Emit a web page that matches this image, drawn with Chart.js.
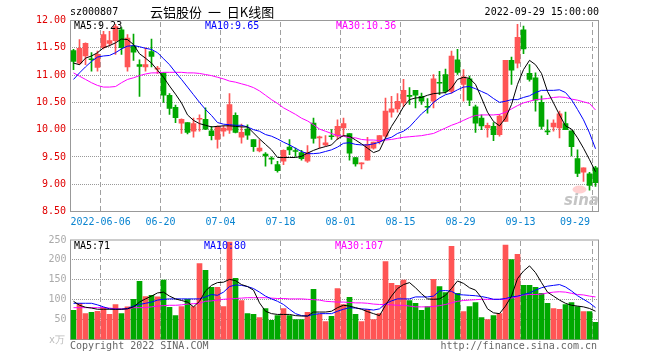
<!DOCTYPE html>
<html><head><meta charset="utf-8">
<script src="https://cdn.jsdelivr.net/npm/chart.js@4/dist/chart.umd.min.js"></script>
<style>
html,body{margin:0;padding:0;background:#fff;}
body{width:660px;height:360px;overflow:hidden;position:relative;font-family:"DejaVu Sans Mono",monospace;}
canvas{position:absolute;left:0;}
#c1{top:0;} #c2{top:230px;}
.t{position:absolute;font-size:10px;line-height:12px;white-space:pre;font-family:"DejaVu Sans Mono",monospace;}
.title{position:absolute;left:150px;top:4px;font-size:13px;line-height:16px;font-family:"Noto Sans CJK SC",sans-serif;word-spacing:3px;white-space:pre;color:#000;}
</style></head><body>
<canvas id="c1" width="660" height="230"></canvas>
<canvas id="c2" width="660" height="130"></canvas>
<div class="t" style="left:70px;top:6px;color:#000">sz000807</div>
<div class="title">云铝股份 一 日K线图</div>
<div class="t" style="right:61px;top:6px;color:#000">2022-09-29 15:00:00</div>
<div class="t" style="left:74px;top:20px;color:#000">MA5:9.23</div>
<div class="t" style="left:205px;top:20px;color:#0000ff">MA10:9.65</div>
<div class="t" style="left:336px;top:20px;color:#ff00ff">MA30:10.36</div>
<div class="t" style="left:74px;top:240px;color:#000">MA5:71</div>
<div class="t" style="left:204px;top:240px;color:#0000ff">MA10:80</div>
<div class="t" style="left:335px;top:240px;color:#ff00ff">MA30:107</div>
<div class="t" style="left:49px;top:334px;color:#bbb">x万</div>
<div class="t" style="left:70px;top:340px;color:#666">Copyright 2022 SINA.COM</div>
<div class="t" style="right:63px;top:340px;color:#666">http://finance.sina.com.cn</div>
<script>
const dates = ['2022-05-27','2022-05-30','2022-05-31','2022-06-01','2022-06-02','2022-06-06','2022-06-07','2022-06-08','2022-06-09','2022-06-10',
'2022-06-13','2022-06-14','2022-06-15','2022-06-16','2022-06-17','2022-06-20','2022-06-21','2022-06-22','2022-06-23','2022-06-24',
'2022-06-27','2022-06-28','2022-06-29','2022-06-30','2022-07-01','2022-07-04','2022-07-05','2022-07-06','2022-07-07','2022-07-08',
'2022-07-11','2022-07-12','2022-07-13','2022-07-14','2022-07-15','2022-07-18','2022-07-19','2022-07-20','2022-07-21','2022-07-22',
'2022-07-25','2022-07-26','2022-07-27','2022-07-28','2022-07-29','2022-08-01','2022-08-02','2022-08-03','2022-08-04','2022-08-05',
'2022-08-08','2022-08-09','2022-08-10','2022-08-11','2022-08-12','2022-08-15','2022-08-16','2022-08-17','2022-08-18','2022-08-19',
'2022-08-22','2022-08-23','2022-08-24','2022-08-25','2022-08-26','2022-08-29','2022-08-30','2022-08-31','2022-09-01','2022-09-02',
'2022-09-05','2022-09-06','2022-09-07','2022-09-08','2022-09-09','2022-09-13','2022-09-14','2022-09-15','2022-09-16','2022-09-19',
'2022-09-20','2022-09-21','2022-09-22','2022-09-23','2022-09-26','2022-09-27','2022-09-28','2022-09-29'];

const opens = [11.45,11.22,11.35,11.29,11.14,11.50,11.58,11.63,11.83,11.15,
11.53,11.19,11.15,11.43,11.11,11.04,10.63,10.41,10.12,10.13,
9.97,10.19,10.19,9.98,9.82,9.97,9.99,10.26,9.86,10.01,
9.82,9.61,9.55,9.47,9.36,9.42,9.68,9.61,9.58,9.42,
10.12,9.85,9.72,9.88,9.88,10.03,9.93,9.49,9.37,9.44,
9.66,9.78,9.88,10.32,10.38,10.49,10.63,10.72,10.61,10.42,
10.52,10.86,11.01,10.70,11.28,10.83,10.93,10.42,10.21,10.03,
10.06,9.91,10.15,11.27,11.22,11.83,11.03,10.95,10.50,9.97,
10.05,10.03,10.11,9.98,9.47,9.22,9.19,9.30];

const highs = [11.47,11.65,11.59,11.41,11.44,11.80,11.80,11.93,11.87,11.74,
11.75,11.28,11.50,11.66,11.16,11.04,10.66,10.45,10.20,10.13,
10.21,10.27,10.40,10.06,10.07,10.07,10.66,10.31,10.10,10.09,
9.82,9.82,9.58,9.50,9.42,9.63,9.82,9.66,9.62,9.71,
10.21,9.88,9.89,10.00,10.18,10.21,9.93,9.49,9.39,9.86,
9.77,9.89,10.58,10.61,10.66,10.92,10.77,10.72,10.67,10.57,
11.01,11.07,11.11,11.44,11.47,11.10,10.98,10.45,10.27,10.12,
10.13,10.28,11.27,11.33,11.93,11.90,11.19,11.04,10.62,10.18,
10.18,10.34,10.32,9.98,9.63,9.30,9.22,9.33];

const lows = [11.10,11.19,11.19,11.07,11.07,11.48,11.53,11.38,11.38,11.07,
11.27,10.61,11.07,11.15,11.03,10.50,10.28,10.13,9.93,9.92,
9.86,9.97,10.00,9.81,9.66,9.88,9.93,9.94,9.75,9.82,
9.60,9.59,9.33,9.37,9.22,9.36,9.54,9.51,9.44,9.40,
9.75,9.66,9.70,9.82,9.82,9.88,9.44,9.33,9.28,9.44,
9.64,9.74,9.85,10.23,10.32,10.42,10.46,10.40,10.46,10.30,
10.40,10.64,10.67,10.67,11.01,10.52,10.44,9.95,10.00,9.86,
9.80,9.88,10.15,10.83,11.13,11.39,10.89,10.34,10.01,9.91,
9.97,9.85,10.00,9.52,9.14,9.05,8.89,8.96];

const closes = [11.25,11.49,11.58,11.28,11.38,11.74,11.63,11.89,11.50,11.68,
11.42,11.16,11.19,11.34,11.13,10.63,10.39,10.22,10.19,9.95,
10.11,10.20,10.01,9.89,10.06,10.03,10.46,9.95,9.95,9.90,
9.69,9.66,9.52,9.46,9.25,9.62,9.63,9.60,9.47,9.58,
9.84,9.87,9.76,9.87,10.06,10.11,9.57,9.37,9.39,9.73,
9.77,9.89,10.34,10.38,10.52,10.72,10.61,10.63,10.52,10.41,
10.93,10.85,10.70,11.35,11.05,10.97,10.54,10.12,10.07,10.08,
9.91,10.25,11.27,11.09,11.69,11.48,10.92,10.54,10.06,9.96,
10.12,10.29,10.00,9.69,9.20,9.30,8.98,9.03];

const priceMA5 = [11.22,11.19,11.31,11.35,11.41,11.50,11.54,11.59,11.66,11.65,
11.56,11.39,11.31,11.22,11.09,10.96,10.80,10.65,10.49,10.27,
10.17,10.11,10.08,10.05,10.06,10.07,10.07,10.06,10.05,10.05,
9.94,9.83,9.73,9.63,9.49,9.49,9.49,9.49,9.51,9.57,
9.62,9.66,9.69,9.72,9.83,9.89,9.88,9.81,9.74,9.66,
9.58,9.62,9.85,10.06,10.23,10.42,10.55,10.58,10.59,10.63,
10.66,10.67,10.68,10.76,10.92,10.96,10.94,10.83,10.58,10.32,
10.15,10.07,10.21,10.46,10.83,11.10,11.27,11.19,11.03,10.70,
10.49,10.27,10.07,10.01,9.85,9.66,9.45,9.23];

const priceMA10 = [10.92,11.04,11.15,11.25,11.33,11.35,11.36,11.41,11.48,11.53,
11.54,11.52,11.49,11.47,11.41,11.30,11.19,11.05,10.92,10.78,
10.64,10.50,10.37,10.26,10.13,10.10,10.09,10.08,10.08,10.05,
10.00,9.97,9.91,9.88,9.83,9.77,9.72,9.66,9.60,9.56,
9.56,9.57,9.60,9.63,9.68,9.75,9.76,9.73,9.72,9.72,
9.74,9.77,9.83,9.86,9.93,9.97,10.05,10.17,10.29,10.38,
10.50,10.58,10.64,10.67,10.73,10.78,10.79,10.75,10.70,10.65,
10.57,10.50,10.52,10.55,10.55,10.59,10.62,10.68,10.72,10.72,
10.72,10.73,10.68,10.55,10.37,10.18,9.94,9.65];

const priceMA30 = [11.04,10.98,10.92,10.86,10.81,10.78,10.78,10.79,10.86,10.92,
10.95,10.99,11.02,11.04,11.04,11.05,11.05,11.05,11.05,11.04,
11.04,11.03,11.01,10.99,10.96,10.93,10.89,10.87,10.84,10.81,
10.77,10.71,10.63,10.55,10.48,10.40,10.34,10.28,10.21,10.16,
10.09,10.01,9.97,9.93,9.89,9.88,9.85,9.85,9.82,9.81,
9.81,9.80,9.81,9.82,9.84,9.86,9.87,9.88,9.89,9.91,
9.93,9.98,10.03,10.08,10.12,10.17,10.22,10.26,10.27,10.27,
10.27,10.28,10.32,10.38,10.44,10.49,10.52,10.55,10.56,10.57,
10.59,10.60,10.59,10.56,10.54,10.51,10.48,10.36];

const volumes = [73,91,65,68,71,80,63,88,65,82,
101,146,108,111,107,149,81,60,83,101,
83,191,174,131,131,83,245,154,98,65,
63,55,78,48,60,78,60,50,50,68,
126,63,45,58,128,88,106,63,45,76,
50,65,196,141,136,149,98,91,73,83,
151,133,118,234,116,70,83,93,55,50,
60,65,237,201,214,136,136,131,116,91,
78,76,88,93,83,70,70,43];

const volMA5 = [96,86,81,79,76,76,76,76,76,77,
82,94,102,109,117,119,109,102,98,94,
82,96,122,136,143,144,151,148,138,133,
124,92,71,65,63,63,63,60,59,59,
69,69,69,71,80,86,84,80,76,70,
65,60,86,109,128,138,143,130,115,102,
101,102,111,128,147,141,130,124,105,77,
67,65,84,109,153,172,185,168,143,119,
109,99,91,86,84,82,78,71];

const volMA10 = [91,91,91,91,87,82,77,76,76,78,
84,88,91,94,99,101,102,102,102,102,
102,102,107,113,111,119,133,137,136,133,
128,119,109,102,96,88,76,65,60,59,
63,65,65,65,71,76,80,79,77,76,
74,77,90,97,102,102,102,107,107,107,
109,122,123,121,113,112,111,110,108,105,
101,101,103,107,109,113,117,124,130,134,
136,138,132,122,110,101,92,80];

const volMA30 = [80,80,80,80,80,80,79,77,77,77,
80,80,80,82,84,85,86,86,87,89,
90,91,96,97,99,101,102,103,104,105,
105,105,105,104,103,103,102,102,102,101,
100,99,96,95,94,94,93,92,92,91,
89,88,88,87,86,86,84,82,82,82,
83,85,88,92,96,98,99,100,101,101,
101,101,101,104,107,112,113,113,114,117,
119,120,119,116,113,112,109,107];

const priceTicks = [8.5, 12, 0.5];      // min, max, step
const volTicks = [0, 250, 50];
const xTickIdx = [5,15,25,35,45,55,65,75,87];
const xTickText = ['2022-06-06','06-20','07-04','07-18','08-01','08-15','08-29','09-13','09-29'];

const UP = '#ff5555', DOWN = '#00a800';
const dirColor = opens.map((o,i) => closes[i] > o ? UP : DOWN);
const MONO = '"DejaVu Sans Mono", monospace';

Chart.defaults.font.family = MONO;
Chart.defaults.font.size = 10;

const frame = {
  id: 'frame',
  beforeDatasetsDraw(chart, args, opts) {
    const {ctx, chartArea: a} = chart;
    const xs = chart.scales.x, ys = chart.scales.y;
    const slot = xs.getPixelForValue(1) - xs.getPixelForValue(0);
    const L = Math.ceil(a.left), R = Math.floor(a.right);
    const T = Math.ceil(a.top), B = Math.floor(a.bottom);
    ctx.save();
    // horizontal dotted grid lines
    ctx.fillStyle = '#999999';
    ys.ticks.forEach(t => {
      if (t.value <= ys.min || t.value >= ys.max) return;
      const row = Math.round(ys.getPixelForValue(t.value) - 0.5);
      for (let x = L + 1; x < R; x += 2) ctx.fillRect(x, row, 1, 1);
    });
    // vertical dashed grid lines
    ctx.fillStyle = '#a0a0a0';
    xTickIdx.forEach(idx => {
      const col = Math.floor(xs.getPixelForValue(idx) - slot / 2);
      for (let y = T + 1; y < B; y += 8) ctx.fillRect(col, y, 1, Math.min(5, B - y));
    });
    if (opts.logo) {
      ctx.fillStyle = 'rgba(255,120,120,0.35)';
      ctx.beginPath();
      ctx.ellipse(a.right - 19, a.bottom - 22, 7, 4, 0, 0, Math.PI * 2);
      ctx.fill();
      ctx.font = 'italic bold 15px "DejaVu Sans", sans-serif';
      ctx.fillStyle = '#c4c4c4';
      ctx.textAlign = 'center';
      ctx.textBaseline = 'alphabetic';
      ctx.fillText('sina', a.right - 17, a.bottom - 7);
    }
    ctx.strokeStyle = '#999';
    ctx.lineWidth = 1;
    ctx.strokeRect(a.left, a.top, a.right - a.left, a.bottom - a.top);
    ctx.restore();
  },
  afterDraw(chart, args, opts) {
    if (!opts.dates) return;
    const {ctx, chartArea: a} = chart;
    const xs = chart.scales.x;
    const slot = xs.getPixelForValue(1) - xs.getPixelForValue(0);
    ctx.save();
    ctx.font = '10px ' + MONO;
    ctx.fillStyle = '#0a84d0';
    ctx.textAlign = 'center';
    ctx.textBaseline = 'middle';
    xTickIdx.forEach((idx, k) => {
      const txt = xTickText[k];
      const w = ctx.measureText(txt).width;
      let x = xs.getPixelForValue(idx) - slot / 2;
      x = Math.min(x, a.right - 8.5 - w / 2);
      x = Math.max(x, a.left + w / 2);
      ctx.fillText(txt, x, a.bottom + 10.5);
    });
    ctx.restore();
  }
};

function xScale() {
  return {
    type: 'category', offset: true,
    grid: { display: false, drawTicks: false },
    border: { display: false },
    ticks: { display: false, autoSkip: false }
  };
}
function lineDs(data, color) {
  return { type: 'line', data, borderColor: color, borderWidth: 1, pointRadius: 0,
    tension: 0, order: 0, fill: false };
}

new Chart(document.getElementById('c1'), {
  type: 'bar',
  data: {
    labels: dates,
    datasets: [
      { data: lows.map((l, i) => [l, highs[i]]), backgroundColor: dirColor,
        barThickness: 1, grouped: false, order: 2 },
      { data: opens.map((o, i) => [o, closes[i]]), backgroundColor: dirColor,
        barThickness: 5, minBarLength: 1, grouped: false, order: 1 },
      lineDs(priceMA5, '#000000'),
      lineDs(priceMA10, '#0000ff'),
      lineDs(priceMA30, '#ff00ff')
    ]
  },
  options: {
    responsive: false, devicePixelRatio: 1, animation: false,
    layout: { padding: { top: 20.5, bottom: 18.5, left: 0, right: 61.5 } },
    plugins: { legend: { display: false }, tooltip: { enabled: false },
      frame: { dates: true, logo: true } },
    scales: {
      x: xScale(),
      y: { min: priceTicks[0], max: priceTicks[1],
        afterFit: s => { s.width = 70.5; },
        ticks: { stepSize: priceTicks[2], color: '#e00000', padding: 4.5,
          font: { family: MONO, size: 10 }, callback: v => Number(v).toFixed(2) },
        grid: { display: false, drawTicks: false },
        border: { display: false } }
    }
  },
  plugins: [frame]
});

new Chart(document.getElementById('c2'), {
  type: 'bar',
  data: {
    labels: dates,
    datasets: [
      { data: volumes, backgroundColor: dirColor, barThickness: 5, order: 1 },
      lineDs(volMA5, '#000000'),
      lineDs(volMA10, '#0000ff'),
      lineDs(volMA30, '#ff00ff')
    ]
  },
  options: {
    responsive: false, devicePixelRatio: 1, animation: false,
    layout: { padding: { top: 9.5, bottom: 20.5, left: 0, right: 61.5 } },
    plugins: { legend: { display: false }, tooltip: { enabled: false },
      frame: { dates: false, logo: false } },
    scales: {
      x: xScale(),
      y: { min: volTicks[0], max: volTicks[1],
        afterFit: s => { s.width = 70.5; },
        ticks: { stepSize: volTicks[2], color: '#aaaaaa', padding: 4,
          font: { family: MONO, size: 10 }, callback: v => v === 0 ? '' : String(v) },
        grid: { display: false, drawTicks: false },
        border: { display: false } }
    }
  },
  plugins: [frame]
});
</script>
</body></html>
